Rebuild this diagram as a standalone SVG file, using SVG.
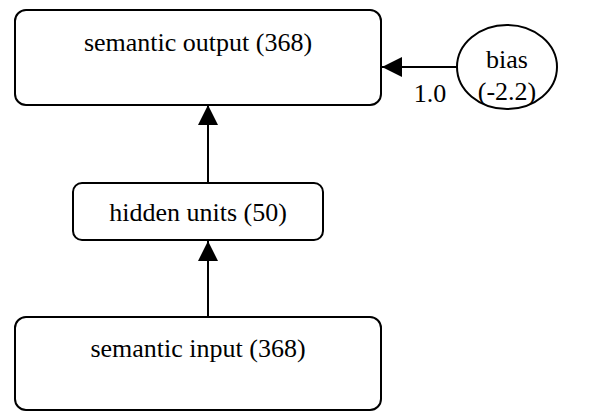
<svg xmlns="http://www.w3.org/2000/svg" width="594" height="412" viewBox="0 0 594 412">
  <style>
    .node { fill: #ffffff; stroke: #000000; stroke-width: 2; }
    .label { font-family: 'Liberation Serif', 'Times New Roman', serif; font-size: 26px; fill: #000000; text-anchor: middle; }
    .edge { stroke: #000000; stroke-width: 2; fill: none; }
  </style>
  <defs>
    <marker id="arrow" viewBox="0 0 20 20" refX="20" refY="10" markerWidth="20" markerHeight="20" markerUnits="userSpaceOnUse" orient="auto">
      <path d="M0,0 L20,10 L0,20 Z" fill="#000000"/>
    </marker>
  </defs>

  <g id="semantic_output">
    <rect class="node" x="15" y="10" width="366" height="95" rx="11" ry="11"/>
    <text class="label" x="198" y="51">semantic output (368)</text>
  </g>

  <g id="bias">
    <ellipse class="node" cx="507" cy="67" rx="50" ry="42"/>
    <text class="label" x="507" y="68">bias</text>
    <text class="label" x="507" y="100">(-2.2)</text>
  </g>

  <g id="hidden_units">
    <rect class="node" x="73" y="183" width="250" height="57" rx="9" ry="9"/>
    <text class="label" x="198" y="221">hidden units (50)</text>
  </g>

  <g id="semantic_input">
    <rect class="node" x="15" y="317" width="366" height="93" rx="11" ry="11"/>
    <text class="label" x="198" y="357">semantic input (368)</text>
  </g>

  <g id="connectors">
    <line class="edge" x1="457" y1="67" x2="382" y2="67" marker-end="url(#arrow)"/>
    <text class="label" x="430" y="102">1.0</text>
    <line class="edge" x1="208" y1="183" x2="208" y2="105" marker-end="url(#arrow)"/>
    <line class="edge" x1="208" y1="317" x2="208" y2="241" marker-end="url(#arrow)"/>
  </g>
</svg>
